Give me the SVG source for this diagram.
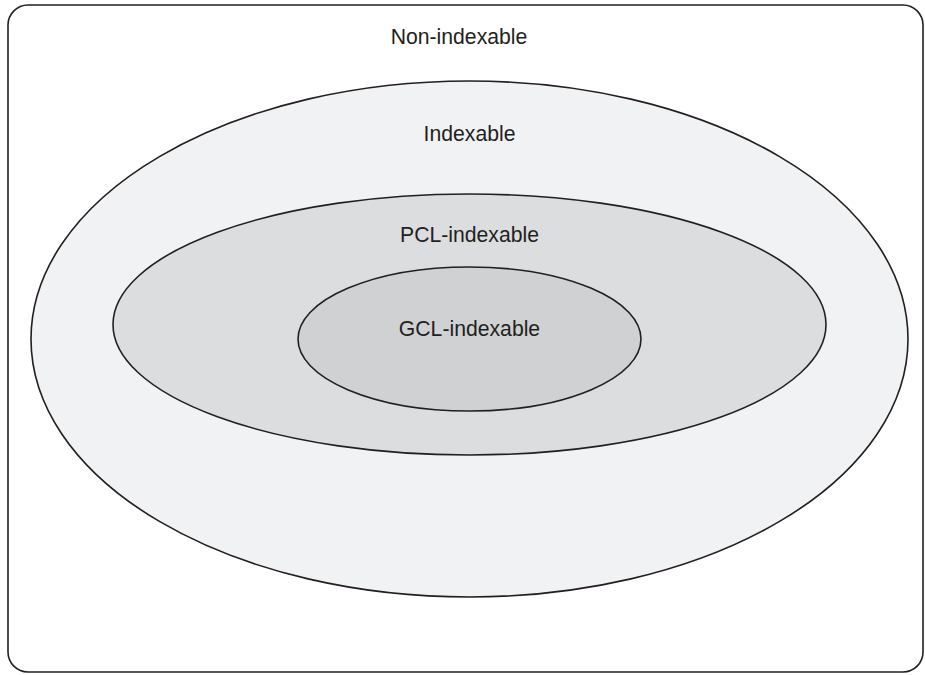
<svg xmlns="http://www.w3.org/2000/svg" width="925" height="675" viewBox="0 0 925 675">
<style>
.shape{stroke:#231f20;stroke-width:1.6}
.lbl{font-family:"Liberation Sans",Arial,sans-serif;font-size:21.2px;fill:#231f20;text-anchor:middle}
</style>
<rect width="925" height="675" fill="#ffffff"/>
<g id="non-indexable">
<rect class="shape" x="8" y="5" width="915" height="667" rx="20" ry="20" fill="#ffffff"/>
<text class="lbl" x="459" y="44">Non-indexable</text>
</g>
<g id="indexable">
<ellipse class="shape" cx="469.5" cy="339" rx="438.5" ry="258" fill="#f1f2f4"/>
<text class="lbl" x="469.5" y="141">Indexable</text>
</g>
<g id="pcl-indexable">
<ellipse class="shape" cx="469.5" cy="324.5" rx="356.5" ry="130.5" fill="#dcdddf"/>
<text class="lbl" x="469.5" y="242">PCL-indexable</text>
</g>
<g id="gcl-indexable">
<ellipse class="shape" cx="469.5" cy="339" rx="171.5" ry="72" fill="#d0d1d3"/>
<text class="lbl" x="469.5" y="336">GCL-indexable</text>
</g>
<g id="connectors"/>
</svg>
